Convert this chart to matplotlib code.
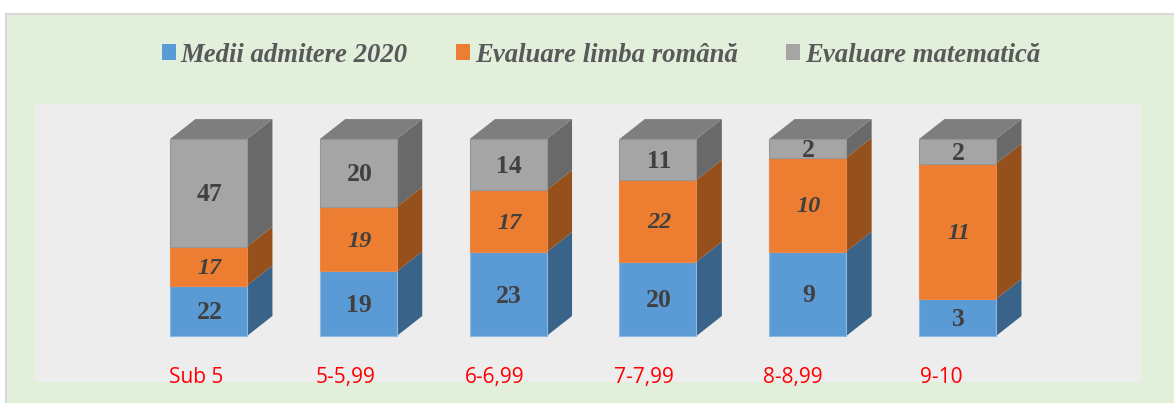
import numpy as np
import matplotlib
matplotlib.use("Agg")
import matplotlib.pyplot as plt
from matplotlib.patches import Patch, Rectangle
from matplotlib.transforms import ScaledTranslation

categories = ["Sub 5", "5-5,99", "6-6,99", "7-7,99", "8-8,99", "9-10"]
medii = [22, 19, 23, 20, 9, 3]
romana = [17, 19, 17, 22, 10, 11]
matematica = [47, 20, 14, 11, 2, 2]
series_names = ["Medii admitere 2020", "Evaluare limba română", "Evaluare matematică"]

W, H = 1174, 403
fig = plt.figure(figsize=(W / 100, H / 100), dpi=100, facecolor="white")

# green panel behind everything
fig.add_artist(Rectangle((6 / W, -0.02), 1.02 - 6 / W, 1.02 - 14 / H, transform=fig.transFigure,
                         facecolor="#E2EFDA", edgecolor="#D9D9D9", linewidth=1.5, zorder=-1))

ax = fig.add_axes([35 / W, (H - 382) / H, (1141 - 35) / W, (382 - 104) / H])
ax.set_facecolor("#EDEDED")
for s in ax.spines.values():
    s.set_visible(False)

front = ["#5B9BD5", "#ED7D31", "#A5A5A5"]
side = ["#3A6389", "#95501B", "#696969"]
top_col = "#7E7E7E"
edge = ["#8FB8DF", "#E98A4A", "#969696"]
styles = ["normal", "italic", "normal"]

bar_w = 0.514
dx = 0.1700   # depth of the fake 3d, in axis units
dy = 0.1015

values = np.array([medii, romana, matematica], dtype=float)
shares = values / values.sum(axis=0)
x = np.arange(len(categories))

bottom = np.zeros(len(categories))
for k in range(3):
    ax.bar(x, shares[k], bar_w, bottom=bottom, color=front[k], edgecolor=edge[k], linewidth=0.8, zorder=3)
    for i in x:
        r = i + bar_w / 2
        y0, y1 = bottom[i], bottom[i] + shares[k][i]
        ax.fill([r, r + dx, r + dx, r], [y0, y0 + dy, y1 + dy, y1], color=side[k], linewidth=0, zorder=2)
        ax.text(i + 0.007, (y0 + y1) / 2 - 0.01, f"{values[k][i]:.0f}", ha="center", va="center",
                family="Liberation Serif", weight="bold", style=styles[k], fontsize=18.5 if k != 1 else 17.5,
                color="#404040", zorder=4)
    bottom = bottom + shares[k]

# top faces
for i in x:
    l, r = i - bar_w / 2, i + bar_w / 2
    ax.fill([l, r, r + dx, l + dx], [1, 1, 1 + dy, 1 + dy], color=top_col, linewidth=0, zorder=2)

ax.set_xlim(-1.158, 6.225)
ax.set_ylim(-0.2335, 1.178)
ax.set_yticks([])
ax.set_xticks(x)
ax.set_xticklabels(categories, family="Open Sans", fontsize=15, color="#FF0000")
ax.tick_params(axis="x", length=0, pad=-10.5)
# labels sit left of the bars and drift a little further left along the axis
for i, lab in enumerate(ax.get_xticklabels()):
    shift = ScaledTranslation((-12 - 0.8 * i) / 100, 0, fig.dpi_scale_trans)
    lab.set_transform(lab.get_transform() + shift)
    lab.set_clip_on(False)

handles = [Patch(facecolor=c, edgecolor="none") for c in front]
leg = fig.legend(handles, series_names, loc="center", bbox_to_anchor=(601 / W, (H - 55) / H), ncol=3,
                 frameon=False, handlelength=0.52, handleheight=0.52, handletextpad=0.19,
                 columnspacing=1.8, prop=dict(family="Liberation Serif", weight="bold", style="italic", size=19.3))
for t in leg.get_texts():
    t.set_color("#595959")

fig.savefig("out.png", dpi=100)
